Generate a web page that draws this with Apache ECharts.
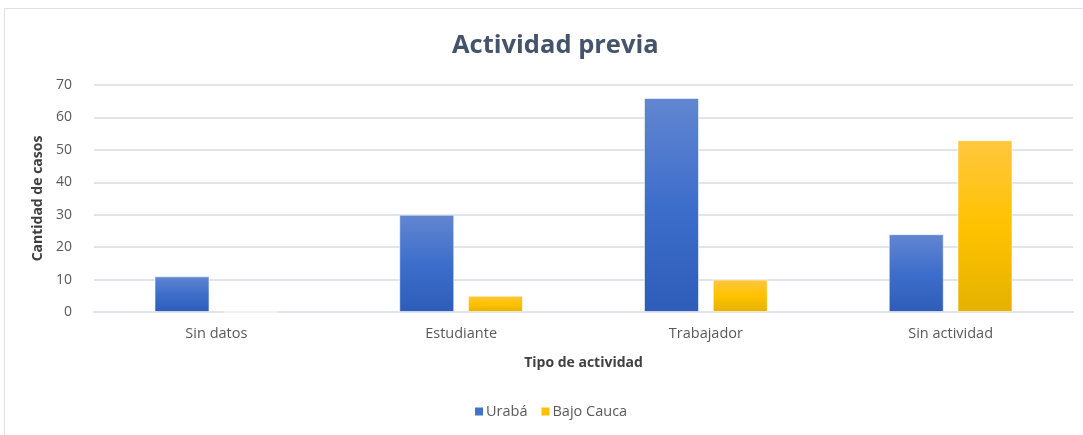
<!DOCTYPE html>
<html>
<head>
<meta charset="utf-8">
<script src="https://cdn.jsdelivr.net/npm/echarts@6/dist/echarts.min.js"></script>
<style>
  html, body { margin: 0; padding: 0; background: #fff; }
  #frame { position: absolute; left: 4px; top: 8px; width: 1200px; height: 500px; border: 1px solid #dcdfe6; box-sizing: border-box; }
  #chart { position: absolute; left: 0; top: 0; width: 1083px; height: 435px; }
</style>
</head>
<body>
<div id="frame"></div>
<div id="chart"></div>
<script>
const categories = ['Sin datos', 'Estudiante', 'Trabajador', 'Sin actividad'];
const uraba = [11, 30, 66, 24];
const bajoCauca = [0, 5, 10, 53];
const seriesNames = ['Urabá', 'Bajo Cauca'];
const yTicks = { min: 0, max: 70, interval: 10 };

const chart = echarts.init(document.getElementById('chart'), null, { renderer: 'canvas' });
const gridColor = '#e1e4ea';
const blueGrad = new echarts.graphic.LinearGradient(0, 0, 0, 1, [
  { offset: 0, color: '#6286d1' },
  { offset: 0.5, color: '#3e6ecb' },
  { offset: 1, color: '#2d5cb9' }
]);
const goldGrad = new echarts.graphic.LinearGradient(0, 0, 0, 1, [
  { offset: 0, color: '#ffc73f' },
  { offset: 0.5, color: '#ffc200' },
  { offset: 1, color: '#e5b200' }
]);

chart.setOption({
  animation: false,
  backgroundColor: 'transparent',
  title: {
    text: 'Actividad previa',
    left: 447,
    top: 28,
    textStyle: { fontFamily: 'Open Sans', fontSize: 25.5, fontWeight: 'bold', color: '#44546a' }
  },
  legend: {
    data: [
      { name: seriesNames[0], itemStyle: { color: '#4472c4', borderWidth: 0 } },
      { name: seriesNames[1], itemStyle: { color: '#ffc000', borderWidth: 0 } }
    ],
    left: 470,
    top: 399,
    itemWidth: 8,
    itemHeight: 8,
    itemGap: 14,
    icon: 'rect',
    textStyle: { fontFamily: 'Open Sans', fontSize: 14.5, color: '#595959', padding: [0, 0, 0, -2] }
  },
  grid: { left: 94, right: 10, top: 85, bottom: 123, containLabel: false },
  xAxis: {
    type: 'category',
    data: categories,
    name: 'Tipo de actividad',
    nameLocation: 'middle',
    nameGap: 44,
    nameTextStyle: { fontFamily: 'Open Sans', fontSize: 14, fontWeight: 'bold', color: '#404040' },
    axisLine: { show: true, lineStyle: { color: gridColor, width: 2 } },
    axisTick: { show: false },
    axisLabel: { fontFamily: 'Open Sans', fontSize: 14.5, color: '#595959', margin: 14 }
  },
  yAxis: {
    type: 'value',
    min: yTicks.min,
    max: yTicks.max,
    interval: yTicks.interval,
    name: 'Cantidad de casos',
    nameLocation: 'middle',
    nameGap: 42,
    nameRotate: 90,
    nameTextStyle: { fontFamily: 'Open Sans', fontSize: 14, fontWeight: 'bold', color: '#404040' },
    axisLine: { show: false },
    axisTick: { show: false },
    axisLabel: { fontFamily: 'Open Sans', fontSize: 14, color: '#595959', margin: 22 },
    splitLine: { lineStyle: { color: gridColor, width: 2 } }
  },
  series: [
    {
      name: seriesNames[0],
      type: 'bar',
      data: uraba,
      barWidth: 55,
      barGap: '25%',
      itemStyle: { color: blueGrad, borderColor: 'rgba(255,255,255,0.55)', borderWidth: 1 }
    },
    {
      name: seriesNames[1],
      type: 'bar',
      data: bajoCauca,
      barWidth: 55,
      itemStyle: { color: goldGrad, borderColor: 'rgba(255,255,255,0.55)', borderWidth: 1 }
    }
  ]
});
</script>
</body>
</html>
